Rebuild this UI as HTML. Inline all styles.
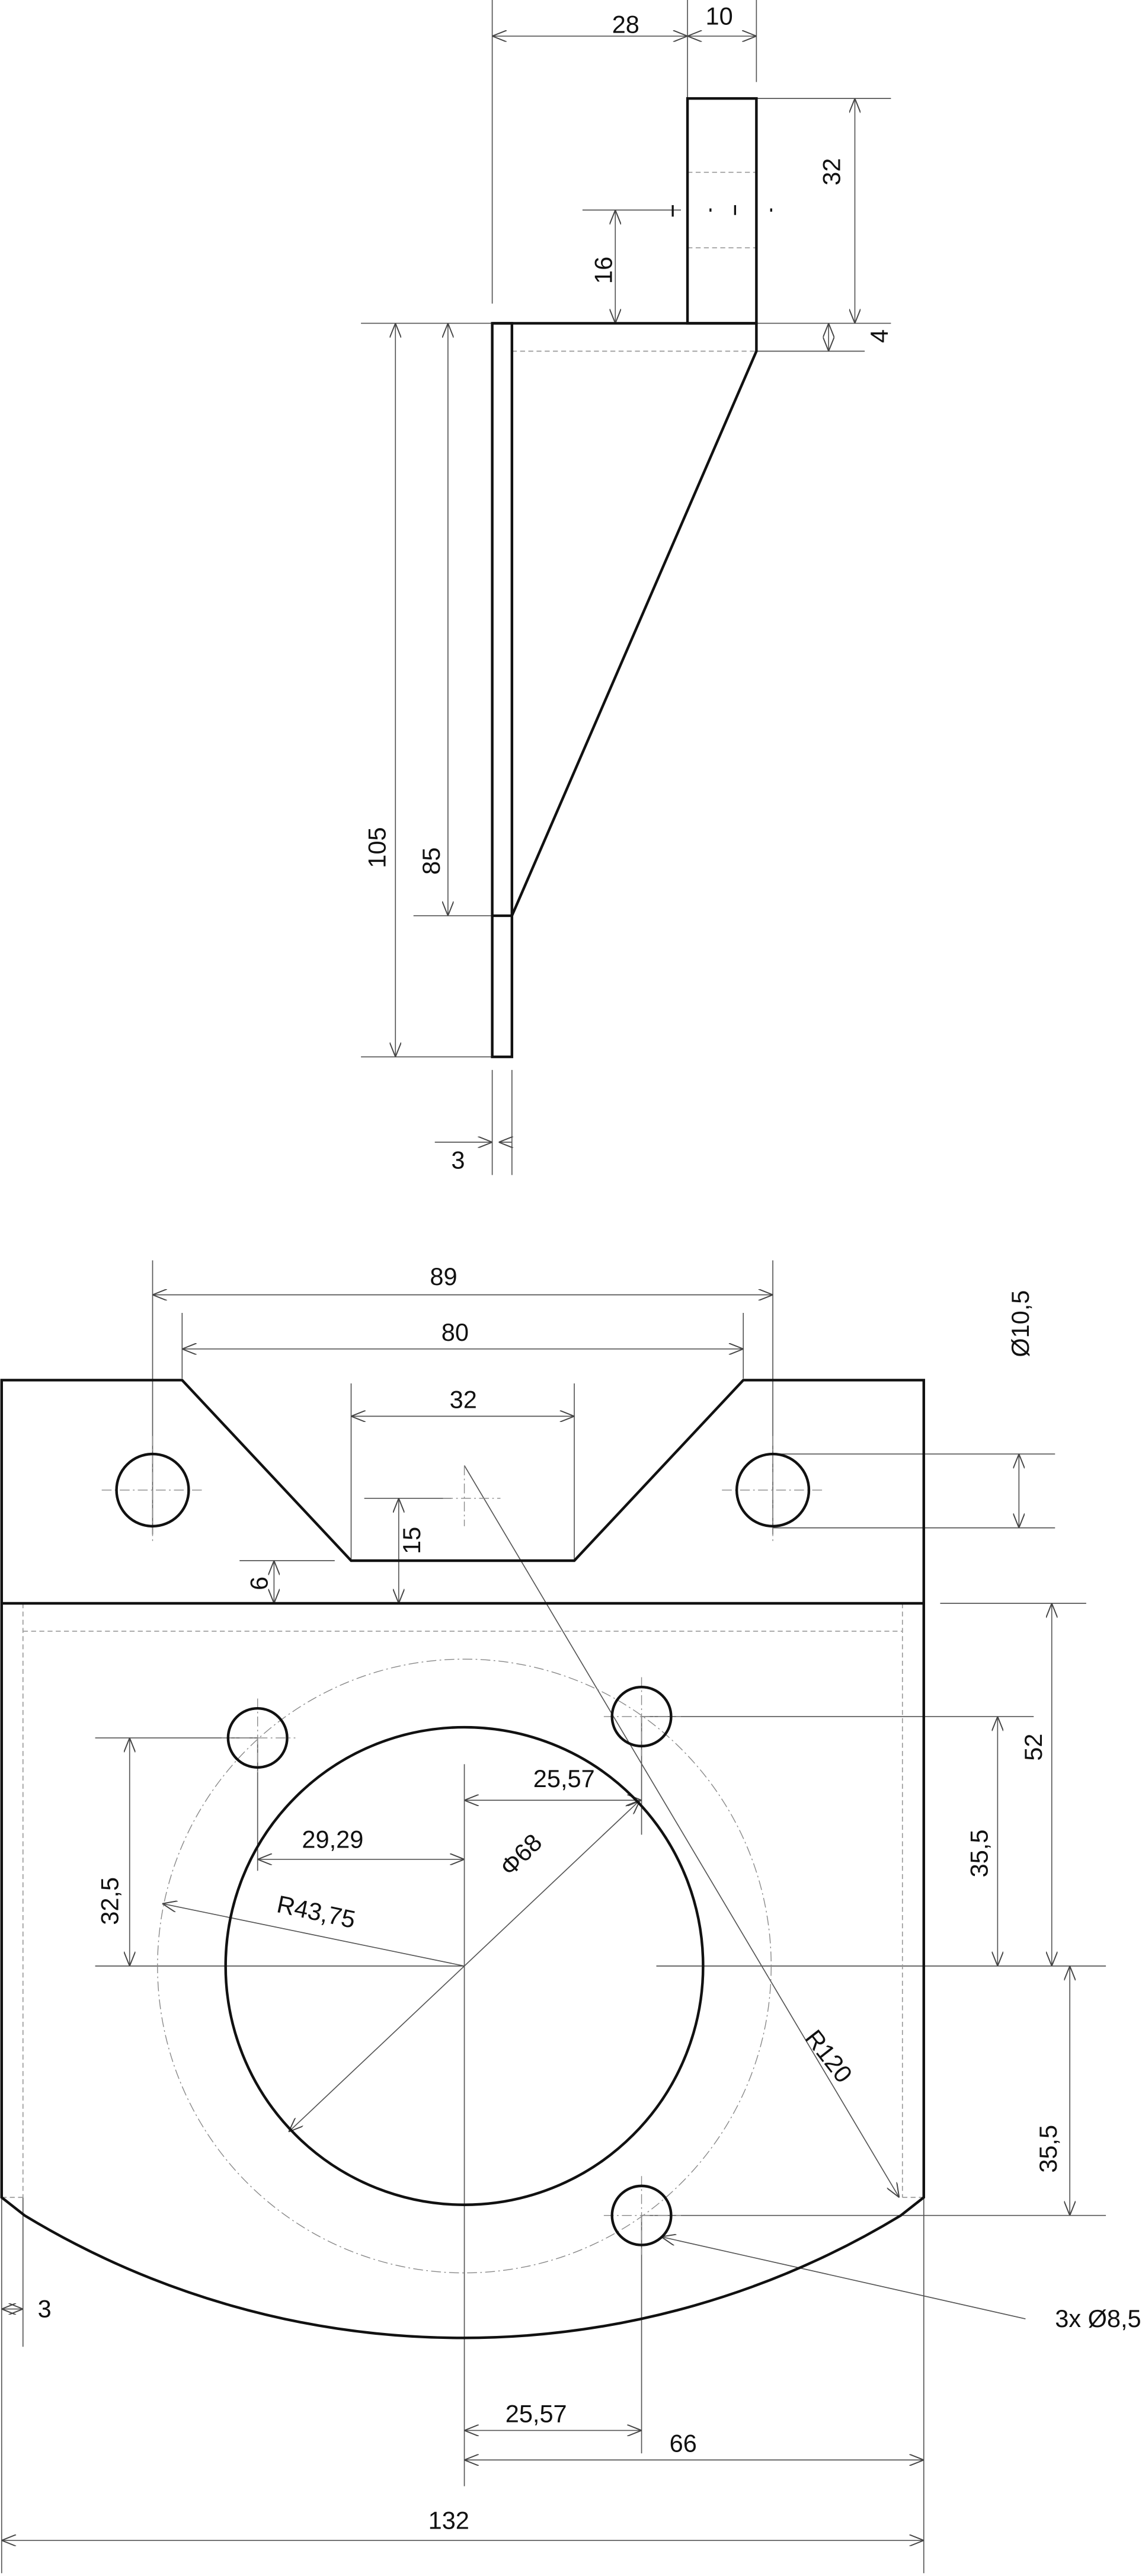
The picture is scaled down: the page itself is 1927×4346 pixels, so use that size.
<!DOCTYPE html>
<html><head><meta charset="utf-8"><style>
html,body{margin:0;padding:0;background:#fff;}
svg{display:block;}
text{font-family:"Liberation Sans",sans-serif;font-size:15px;fill:#111;}
</style></head><body>
<svg width="1927" height="4346" viewBox="0 0 696 1569.7" preserveAspectRatio="none" xmlns="http://www.w3.org/2000/svg">
<defs>
<marker id="a" viewBox="0 0 10 8" refX="10" refY="4" markerWidth="9" markerHeight="7" markerUnits="userSpaceOnUse" orient="auto-start-reverse">
<path d="M0,0 L10,4 L0,8" fill="none" stroke="#444" stroke-width="0.8"/>
</marker>
</defs>
<rect width="696" height="1570" fill="#fff"/>
<g fill="none" stroke="#555" stroke-width="0.6">
<line x1="300" y1="0" x2="300" y2="185"/>
<line x1="419" y1="0" x2="419" y2="60"/>
<line x1="461" y1="0" x2="461" y2="50"/>
<line x1="461" y1="60" x2="543" y2="60"/>
<line x1="461" y1="197" x2="543" y2="197"/>
<line x1="355" y1="128" x2="415" y2="128"/>
<line x1="461" y1="214" x2="527" y2="214"/>
<line x1="220" y1="197" x2="300" y2="197"/>
<line x1="220" y1="644" x2="300" y2="644"/>
<line x1="252" y1="558" x2="300" y2="558"/>
<line x1="300" y1="652" x2="300" y2="716"/>
<line x1="312" y1="652" x2="312" y2="716"/>
<line x1="300" y1="22" x2="419" y2="22" marker-start="url(#a)" marker-end="url(#a)"/>
<line x1="419" y1="22" x2="461" y2="22" marker-start="url(#a)" marker-end="url(#a)"/>
<line x1="521" y1="60" x2="521" y2="197" marker-start="url(#a)" marker-end="url(#a)"/>
<line x1="375" y1="128" x2="375" y2="197" marker-start="url(#a)" marker-end="url(#a)"/>
<line x1="505" y1="197" x2="505" y2="214" marker-start="url(#a)" marker-end="url(#a)"/>
<line x1="241" y1="197" x2="241" y2="644" marker-start="url(#a)" marker-end="url(#a)"/>
<line x1="273" y1="197" x2="273" y2="558" marker-start="url(#a)" marker-end="url(#a)"/>
<line x1="265" y1="696" x2="300" y2="696" marker-end="url(#a)"/>
<line x1="312" y1="696" x2="304" y2="696" marker-end="url(#a)"/>
</g>
<g fill="none" stroke="#999" stroke-width="0.6" stroke-dasharray="3,2">
<line x1="419" y1="105" x2="461" y2="105"/>
<line x1="419" y1="151" x2="461" y2="151"/>
<line x1="312" y1="214" x2="461" y2="214"/>
</g>
<g stroke="#111" stroke-width="1.2">
<line x1="410" y1="125" x2="410" y2="132"/>
<line x1="433" y1="127" x2="433" y2="129"/>
<line x1="448" y1="125" x2="448" y2="131"/>
<line x1="470" y1="127" x2="470" y2="129"/>
</g>
<g fill="none" stroke="#111" stroke-width="1.6">
<rect x="419" y="60" width="42" height="137"/>
<path d="M300,197 L461,197 L461,214 L312,558"/>
<rect x="300" y="197" width="12" height="447"/>
<line x1="300" y1="558" x2="312" y2="558"/>
</g>
<text x="373" y="20">28</text>
<text x="430" y="15">10</text>
<text transform="translate(512,113) rotate(-90)">32</text>
<text transform="translate(373,173) rotate(-90)">16</text>
<text transform="translate(541,209) rotate(-90)" font-size="13">4</text>
<text transform="translate(235,529) rotate(-90)">105</text>
<text transform="translate(268,533) rotate(-90)">85</text>
<text x="275" y="712">3</text>

<g fill="none" stroke="#555" stroke-width="0.6">
<line x1="93" y1="768" x2="93" y2="935"/>
<line x1="471" y1="768" x2="471" y2="935"/>
<line x1="111" y1="800" x2="111" y2="840"/>
<line x1="453" y1="800" x2="453" y2="840"/>
<line x1="214" y1="843" x2="214" y2="950"/>
<line x1="350" y1="843" x2="350" y2="950"/>
<line x1="93" y1="789" x2="471" y2="789" marker-start="url(#a)" marker-end="url(#a)"/>
<line x1="111" y1="822" x2="453" y2="822" marker-start="url(#a)" marker-end="url(#a)"/>
<line x1="214" y1="863" x2="350" y2="863" marker-start="url(#a)" marker-end="url(#a)"/>
<line x1="222" y1="913" x2="275" y2="913"/>
<line x1="146" y1="951" x2="204" y2="951"/>
<line x1="243" y1="913" x2="243" y2="977" marker-start="url(#a)" marker-end="url(#a)"/>
<line x1="167" y1="951" x2="167" y2="977" marker-start="url(#a)" marker-end="url(#a)"/>
<line x1="471" y1="886" x2="643" y2="886"/>
<line x1="471" y1="931" x2="643" y2="931"/>
<line x1="621" y1="886" x2="621" y2="931" marker-start="url(#a)" marker-end="url(#a)"/>
<line x1="573" y1="977" x2="662" y2="977"/>
<line x1="391" y1="1046" x2="630" y2="1046"/>
<line x1="400" y1="1198" x2="674" y2="1198"/>
<line x1="391" y1="1350" x2="674" y2="1350"/>
<line x1="641" y1="977" x2="641" y2="1198" marker-start="url(#a)" marker-end="url(#a)"/>
<line x1="608" y1="1046" x2="608" y2="1198" marker-start="url(#a)" marker-end="url(#a)"/>
<line x1="652" y1="1198" x2="652" y2="1350" marker-start="url(#a)" marker-end="url(#a)"/>
<line x1="58" y1="1059" x2="157" y2="1059"/>
<line x1="58" y1="1198" x2="283" y2="1198"/>
<line x1="79" y1="1059" x2="79" y2="1198" marker-start="url(#a)" marker-end="url(#a)"/>
<line x1="157" y1="1059" x2="157" y2="1140"/>
<line x1="391" y1="1046" x2="391" y2="1118"/>
<line x1="157" y1="1133" x2="283" y2="1133" marker-start="url(#a)" marker-end="url(#a)"/>
<line x1="283" y1="1097" x2="391" y2="1097" marker-start="url(#a)" marker-end="url(#a)"/>
<line x1="176" y1="1299" x2="390" y2="1097" marker-start="url(#a)" marker-end="url(#a)"/>
<line x1="283" y1="1198" x2="99" y2="1160" marker-end="url(#a)"/>
<line x1="283" y1="893" x2="548" y2="1339" marker-end="url(#a)"/>
<line x1="625" y1="1413" x2="403" y2="1363" marker-end="url(#a)"/>
<line x1="283" y1="1075" x2="283" y2="1515"/>
<line x1="391" y1="1350" x2="391" y2="1495"/>
<line x1="563" y1="1339" x2="563" y2="1568"/>
<line x1="1" y1="1339" x2="1" y2="1568"/>
<line x1="14" y1="1339" x2="14" y2="1430"/>
<line x1="283" y1="1481" x2="391" y2="1481" marker-start="url(#a)" marker-end="url(#a)"/>
<line x1="283" y1="1499" x2="563" y2="1499" marker-start="url(#a)" marker-end="url(#a)"/>
<line x1="1" y1="1548" x2="563" y2="1548" marker-start="url(#a)" marker-end="url(#a)"/>
<line x1="1" y1="1407" x2="14" y2="1407" marker-start="url(#a)" marker-end="url(#a)"/>
</g>
<g fill="none" stroke="#888" stroke-width="0.5" stroke-dasharray="6,2,1,2">
<line x1="93" y1="875" x2="93" y2="940"/>
<line x1="62" y1="908" x2="125" y2="908"/>
<line x1="471" y1="875" x2="471" y2="940"/>
<line x1="440" y1="908" x2="502" y2="908"/>
<line x1="283" y1="893" x2="283" y2="930"/>
<line x1="270" y1="913" x2="305" y2="913"/>
<line x1="157" y1="1035" x2="157" y2="1080"/>
<line x1="135" y1="1059" x2="180" y2="1059"/>
<line x1="391" y1="1022" x2="391" y2="1070"/>
<line x1="368" y1="1046" x2="415" y2="1046"/>
<line x1="391" y1="1326" x2="391" y2="1374"/>
<line x1="368" y1="1350" x2="415" y2="1350"/>
<circle cx="283" cy="1198" r="187"/>
</g>
<g fill="none" stroke="#999" stroke-width="0.6" stroke-dasharray="3,2">
<line x1="14" y1="994" x2="550" y2="994"/>
<line x1="14" y1="977" x2="14" y2="1339"/>
<line x1="550" y1="977" x2="550" y2="1339"/>
<line x1="550" y1="1339" x2="563" y2="1339"/>
<line x1="1" y1="1339" x2="14" y2="1339"/>
</g>
<g fill="none" stroke="#111" stroke-width="1.6">
<path d="M1,841 L111,841 L214,951 L350,951 L453,841 L563,841 L563,1339 L549,1350 A515,515 0 0 1 15,1350 L1,1339 Z"/>
<line x1="1" y1="977" x2="563" y2="977"/>
<circle cx="93" cy="908" r="22"/>
<circle cx="471" cy="908" r="22"/>
<circle cx="157" cy="1059" r="18"/>
<circle cx="391" cy="1046" r="18"/>
<circle cx="391" cy="1350" r="18"/>
<circle cx="283" cy="1198" r="145.5"/>
</g>
<text x="262" y="783">89</text>
<text x="269" y="817">80</text>
<text x="274" y="858">32</text>
<text transform="translate(256,947) rotate(-90)">15</text>
<text transform="translate(163,969) rotate(-90)">6</text>
<text transform="translate(627,827) rotate(-90)">Ø10,5</text>
<text transform="translate(635,1073) rotate(-90)">52</text>
<text transform="translate(602,1144) rotate(-90)">35,5</text>
<text transform="translate(644,1324) rotate(-90)">35,5</text>
<text transform="translate(72,1173) rotate(-90)">32,5</text>
<text x="184" y="1126">29,29</text>
<text x="325" y="1089">25,57</text>
<text transform="translate(311,1144) rotate(-45)">Φ68</text>
<text transform="translate(168,1165) rotate(12)">R43,75</text>
<text transform="translate(490,1242) rotate(52)">R120</text>
<text x="643" y="1418">3x Ø8,5</text>
<text x="23" y="1412">3</text>
<text x="308" y="1476">25,57</text>
<text x="408" y="1494">66</text>
<text x="261" y="1541">132</text>
</svg>
</body></html>
